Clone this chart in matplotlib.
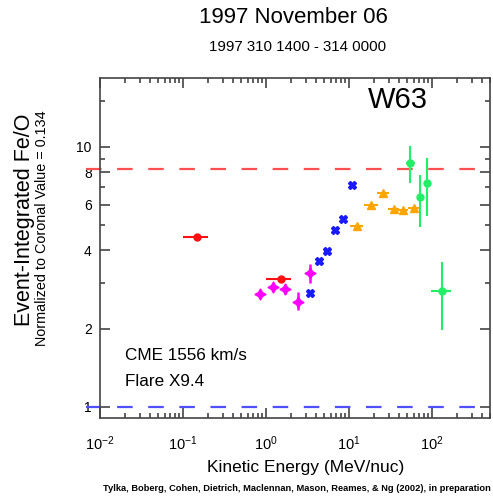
import numpy as np
import matplotlib
matplotlib.use("Agg")
import matplotlib.pyplot as plt
import matplotlib.transforms as mtransforms
from matplotlib.ticker import FixedLocator, NullFormatter, LogLocator

plt.rcParams['font.family'] = ['Liberation Sans', 'DejaVu Sans']
plt.rcParams['mathtext.default'] = 'regular'

# data
red_x = [0.149, 1.5]
red_y = [4.5, 3.1]
red_xlo = [0.1, 1.0]
red_xhi = [0.2, 2.0]

mag_x = [0.85, 1.2, 1.69, 2.44, 3.37]
mag_y = [2.71, 2.90, 2.84, 2.54, 3.27]
mag_ylo = [2.64, 2.80, 2.73, 2.36, 2.99]
mag_yhi = [2.78, 3.00, 2.96, 2.77, 3.54]
mag_xlo = [0.76, 1.08, 1.53, 2.20, 3.05]
mag_xhi = [0.95, 1.33, 1.87, 2.70, 3.72]

blue_x = [3.43, 4.36, 5.38, 6.76, 8.43, 10.8]
blue_y = [2.75, 3.64, 3.98, 4.80, 5.27, 7.14]

orange_x = [12.3, 18.2, 25.4, 34.4, 44.1, 60.8]
orange_y = [4.97, 5.98, 6.67, 5.77, 5.74, 5.81]
orange_xlo = [10.3, 15.2, 21.5, 29.5, 38.0, 52.0]
orange_xhi = [14.8, 22.1, 30.0, 40.0, 51.0, 71.0]

green_x = [55, 71, 87, 133]
green_y = [8.66, 6.4, 7.25, 2.80]
green_ylo = [7.25, 4.94, 5.43, 1.98]
green_yhi = [10.06, 7.8, 9.05, 3.6]
green_xlo = [48, 68, 84, 96]
green_xhi = [63, 74, 90, 170]

coronal_line = 1.0
photo_line = 8.2

yticks = [1, 2, 4, 6, 8, 10]
yminor = [3, 5, 7, 9, 15]


def errs(v, lo, hi):
    v = np.array(v)
    return [v - np.array(lo), np.array(hi) - v]


fig = plt.figure(figsize=(4.93, 4.97), dpi=100)
ax = fig.add_axes([0.203, 0.159, 0.791, 0.684])
ax.set_xscale('log')
ax.set_yscale('log')
ax.set_xlim(0.01, 500)
ax.set_ylim(0.907, 18.4)

# reference lines, drawn a bit past the left axis
trans = mtransforms.blended_transform_factory(ax.transAxes, ax.transData)
l1, = ax.plot([-0.035, 1.0], [photo_line, photo_line], color='#ff5050', lw=1.6,
              transform=trans, clip_on=False)
l1.set_dashes([7, 7])
l2, = ax.plot([-0.035, 1.0], [coronal_line, coronal_line], color='#5050ff', lw=1.6,
              transform=trans, clip_on=False)
l2.set_dashes([7, 7])

# data points
ax.errorbar(red_x, red_y, xerr=errs(red_x, red_xlo, red_xhi), fmt='o', color='#ff1010',
            ms=5, elinewidth=1.5, capsize=0)
ax.errorbar(mag_x, mag_y, xerr=errs(mag_x, mag_xlo, mag_xhi),
            yerr=errs(mag_y, mag_ylo, mag_yhi), fmt='none', ecolor='#ff00ff',
            elinewidth=1.8, capsize=0)
ax.plot(mag_x, mag_y, linestyle='none', marker=(4, 1, 0), color='#ff00ff', ms=8)
ax.errorbar(blue_x, blue_y, xerr=np.array(blue_x) * 0.06, fmt='X', color='#1a1aff',
            ms=5.5, elinewidth=1.5, capsize=0)
ax.errorbar(orange_x, orange_y, xerr=errs(orange_x, orange_xlo, orange_xhi), fmt='^',
            color='#ffa500', ms=6, elinewidth=1.5, capsize=0)
ax.errorbar(green_x, green_y, xerr=errs(green_x, green_xlo, green_xhi),
            yerr=errs(green_y, green_ylo, green_yhi), fmt='o', color='#22ee66',
            ms=5, elinewidth=1.5, capsize=0)

# axes style
for s in ax.spines.values():
    s.set_linewidth(1.2)
    s.set_color('#444444')
ax.yaxis.set_major_locator(FixedLocator(yticks))
ax.yaxis.set_minor_locator(FixedLocator(yminor))
ax.set_yticklabels([str(t) for t in yticks])
ax.yaxis.set_minor_formatter(NullFormatter())
ax.xaxis.set_major_locator(LogLocator(base=10, numticks=10))
ax.xaxis.set_minor_locator(LogLocator(base=10, subs=np.arange(2, 10), numticks=20))
ax.xaxis.set_minor_formatter(NullFormatter())
ax.tick_params(which='both', direction='in', top=True, right=True, color='#444444')
ax.tick_params(which='major', length=7, width=1.2)
ax.tick_params(which='minor', length=3.5, width=1.2)
ax.tick_params(axis='x', labelsize=10.5, pad=12)
ax.tick_params(axis='y', labelsize=10, pad=6)

# labels
ax.set_xlabel('Kinetic Energy (MeV/nuc)', fontsize=12.5)
ax.xaxis.set_label_coords(0.526, -0.125)
fig.text(0.05, 0.557, 'Event-Integrated Fe/O', rotation=90, fontsize=15.5,
         ha='center', va='center')
fig.text(0.086, 0.541, 'Normalized to Coronal Value = 0.134', rotation=90, fontsize=10.4,
         ha='center', va='center')
fig.text(0.596, 0.964, '1997 November 06', fontsize=16, ha='center', va='center')
fig.text(0.604, 0.905, '1997 310 1400 - 314 0000', fontsize=10.8, ha='center', va='center')

ax.text(0.688, 0.935, 'W63', transform=ax.transAxes, fontsize=21, ha='left', va='center')
ax.text(0.063, 0.185, 'CME 1556 km/s', transform=ax.transAxes, fontsize=12.3, va='center')
ax.text(0.063, 0.108, 'Flare X9.4', transform=ax.transAxes, fontsize=12.3, va='center')

fig.text(0.995, 0.018,
         'Tylka, Boberg, Cohen, Dietrich, Maclennan, Mason, Reames, & Ng (2002), in preparation',
         fontsize=6.7, fontweight='bold', ha='right', va='center',
         family=['Liberation Sans', 'DejaVu Sans'])

fig.savefig('out.png', dpi=100)
